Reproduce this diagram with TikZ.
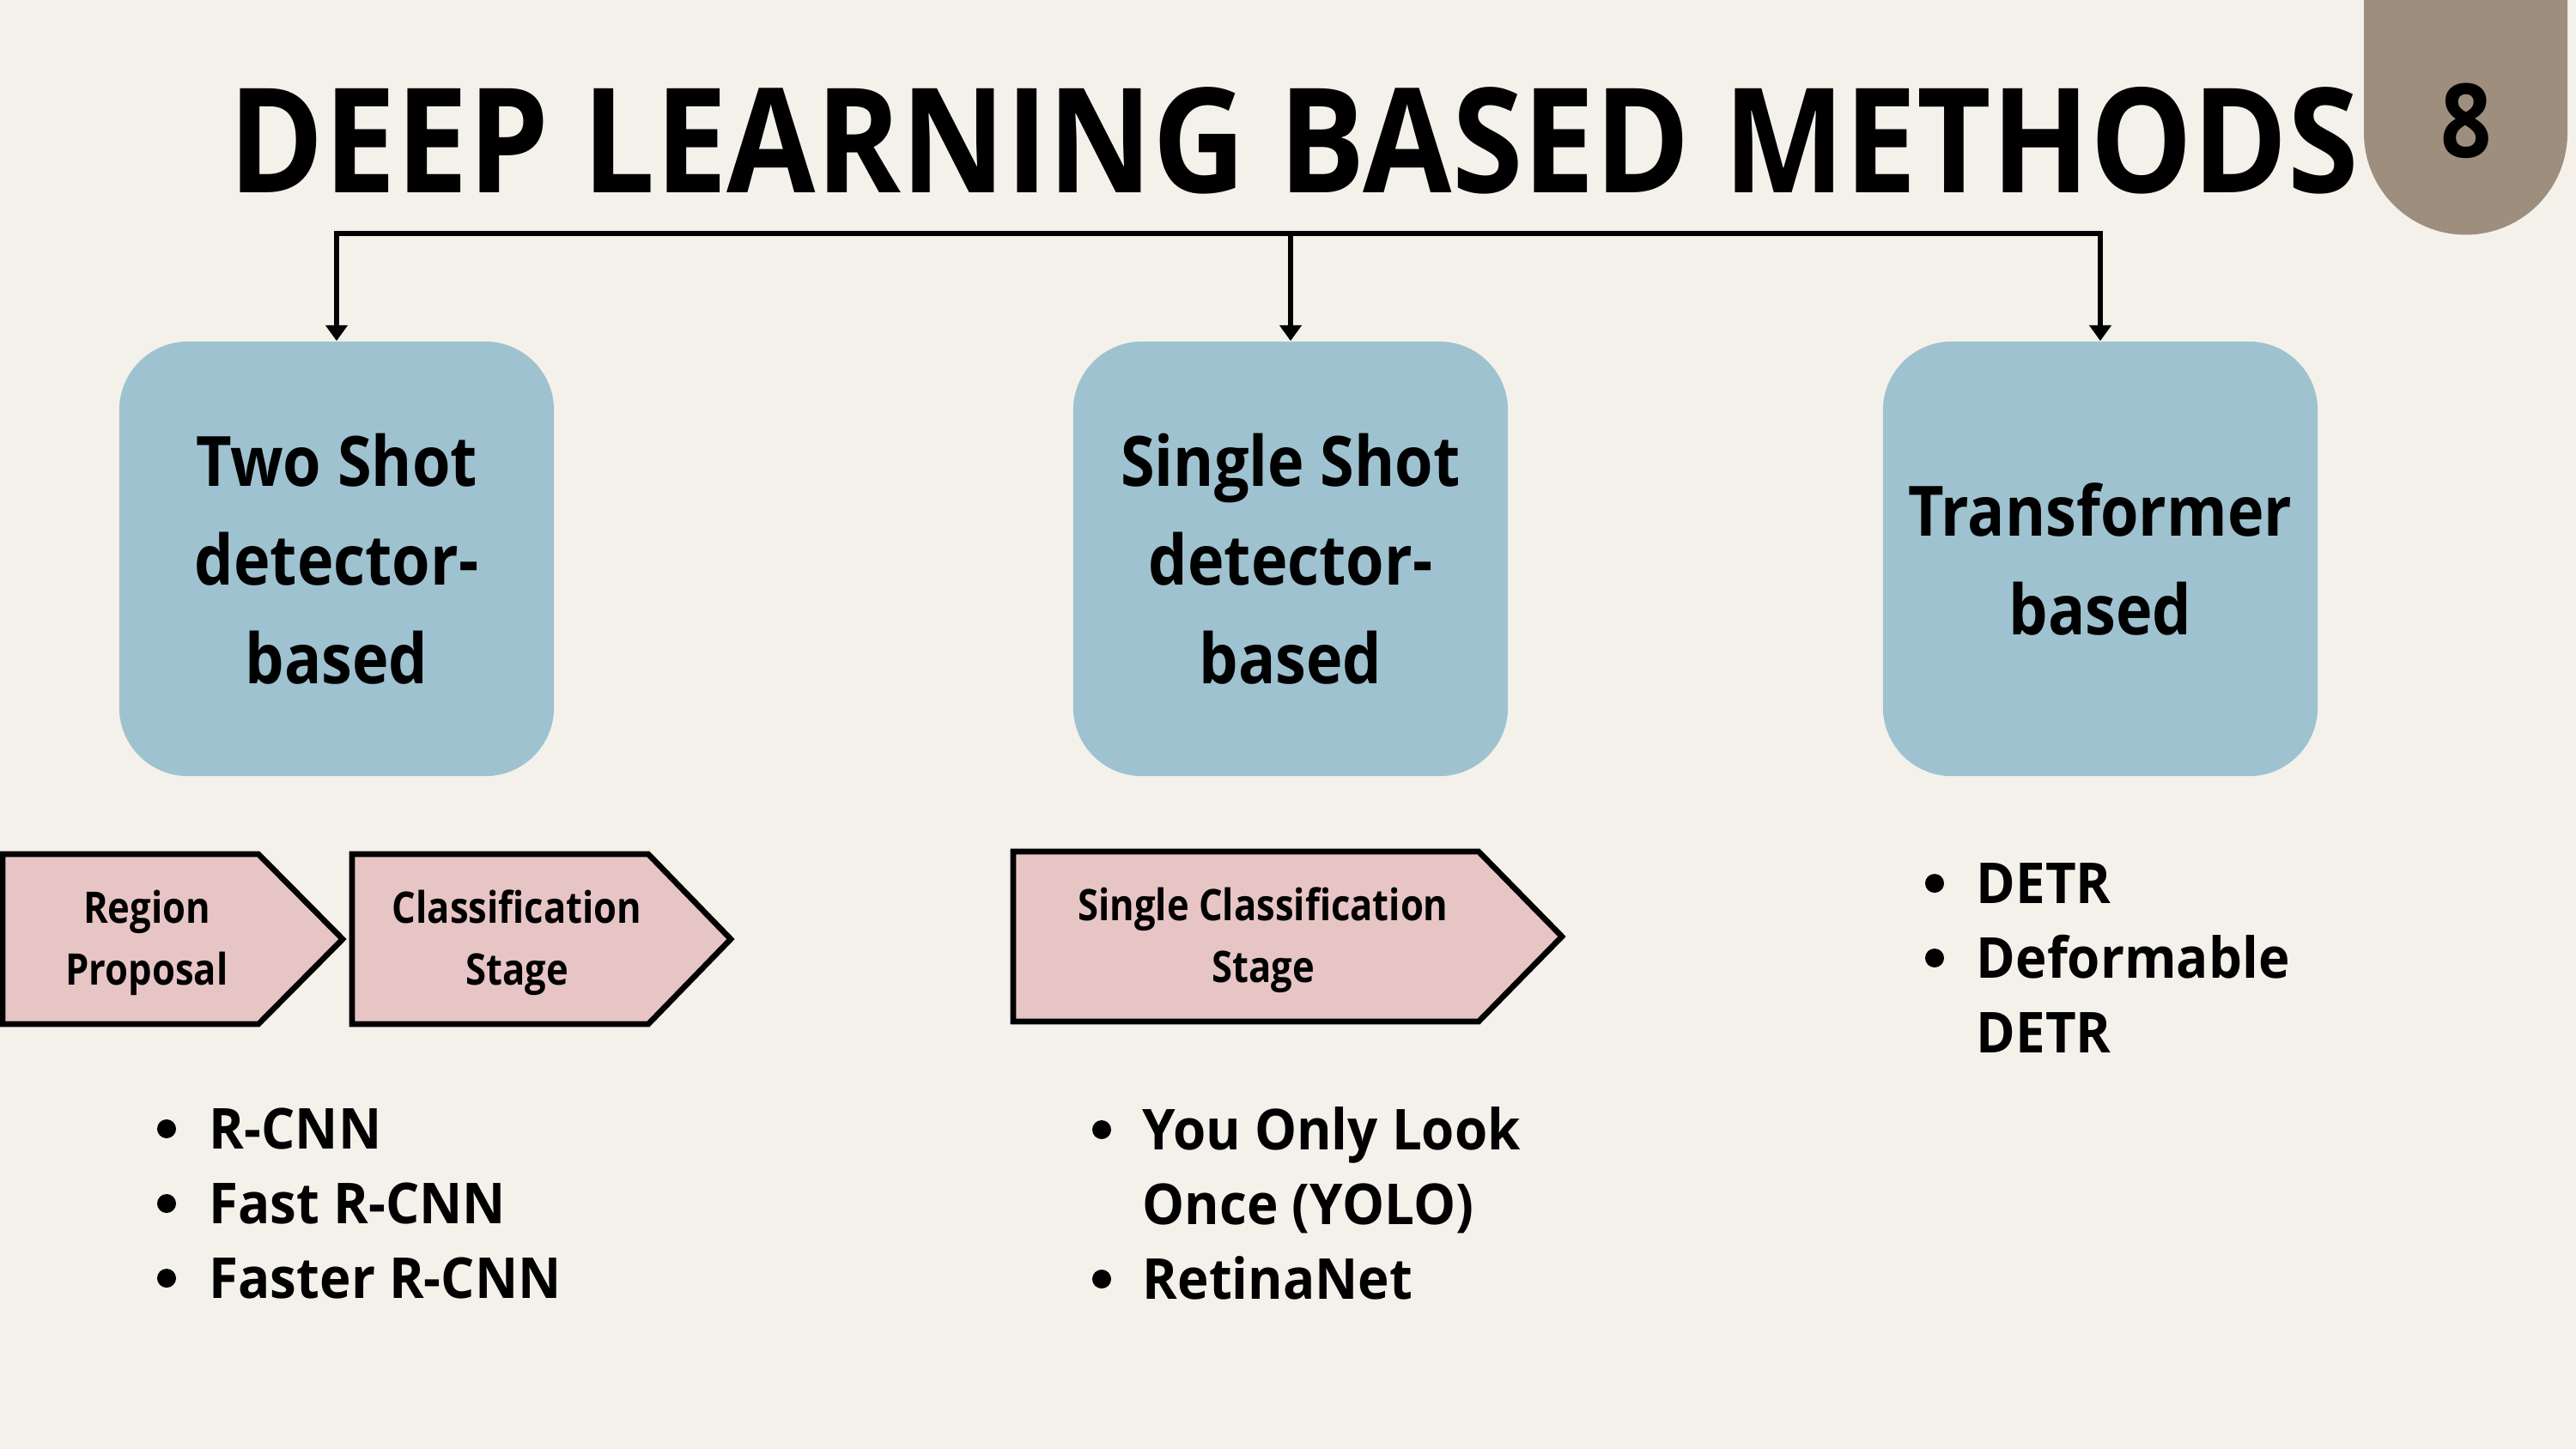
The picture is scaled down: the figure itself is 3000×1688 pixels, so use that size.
\documentclass[tikz,border=0pt]{standalone}
\usepackage{fontspec}
\setmainfont{Open Sans}
\newfontfamily\headfont[FakeStretch=0.87]{Open Sans}
\newfontfamily\boxfont[FakeStretch=0.89]{Open Sans}
\newfontfamily\stagefont[FakeStretch=0.86]{Open Sans}
\newfontfamily\listfont[FakeStretch=0.94]{Open Sans}
\usetikzlibrary{arrows.meta}
\definecolor{paper}{RGB}{244,241,235}
\definecolor{badge}{RGB}{158,142,126}
\definecolor{methodblue}{RGB}{159,194,208}
\definecolor{stagepink}{RGB}{232,197,197}
\begin{document}
\begin{tikzpicture}[x=0.01cm,y=-0.01cm,
  methodbox/.style={fill=methodblue, rounded corners=0.8cm, minimum width=5.06cm,
    minimum height=5.06cm, inner sep=0pt, align=center,
    font=\boxfont\bfseries\fontsize{23}{32.7}\selectfont},
  stagebox/.style={fill=stagepink, draw=black, line width=1.9pt, line join=miter},
  stagetext/.style={align=center, inner sep=0pt,
    font=\stagefont\bfseries\fontsize{14.4}{20.5}\selectfont},
  listitem/.style={anchor=base west, inner sep=0pt,
    font=\listfont\bfseries\fontsize{18.7}{24.7}\selectfont},
  bulletdot/.style={circle, fill=black, inner sep=0pt, minimum size=0.22cm},
  feed/.style={line width=1.9pt, -{Triangle[width=7.1pt,length=5.2pt]}}
]
% page
\fill[paper] (0,0) rectangle (3000,1688);
\useasboundingbox (0,0) rectangle (3000,1688);

% page-number tab
\fill[badge] (2753,0) -- (2753,155) arc[start angle=180, end angle=0, radius=118.5] -- (2990,0) -- cycle;
\node[font=\headfont\bfseries\fontsize{34}{34}\selectfont, inner sep=0pt] (pagenum) at (2872,141) {8};

% heading
\node[anchor=base west, inner sep=0pt] (title) at (266,225)
  {\resizebox{705pt}{35pt}{\headfont\bfseries DEEP LEARNING BASED METHODS}};

% method families
\node[methodbox] (two) at (392,651) {Two Shot\\detector-\\based};
\node[methodbox] (single) at (1503,651) {Single Shot\\detector-\\based};
\node[methodbox] (trans) at (2446,651) {Transformer\\based};

% distribution bar
\coordinate (bar) at (1503,272);
\draw[feed] (bar) -| (two.north);
\draw[feed] (bar) -- (single.north);
\draw[feed] (bar) -| (trans.north);

% pipeline stages
\draw[stagebox] (3,995) -- (301,995) -- (399,1094) -- (301,1193) -- (3,1193) -- cycle;
\draw[stagebox] (410,995) -- (755,995) -- (851,1094) -- (755,1193) -- (410,1193) -- cycle;
\draw[stagebox] (1180,992) -- (1722,992) -- (1819,1091) -- (1722,1190) -- (1180,1190) -- cycle;
\node[stagetext] (rp) at (171,1098) {Region\\Proposal};
\node[stagetext] (cs) at (602,1098) {Classification\\Stage};
\node[stagetext] (scs) at (1471,1095) {Single Classification\\Stage};

% two-shot examples
\node[bulletdot] (b11) at (194,1315) {};
\node[listitem] (rcnn) at (243,1338) {R-CNN};
\node[bulletdot] (b12) at (194,1402) {};
\node[listitem] (fast) at (243,1425) {Fast R-CNN};
\node[bulletdot] (b13) at (194,1489) {};
\node[listitem] (faster) at (243,1512) {Faster R-CNN};

% single-shot examples
\node[bulletdot] (b21) at (1283,1316) {};
\node[listitem] (yolo1) at (1330,1339) {You Only Look};
\node[listitem] (yolo2) at (1330,1426) {Once (YOLO)};
\node[bulletdot] (b22) at (1283,1490) {};
\node[listitem] (retina) at (1330,1513) {RetinaNet};

% transformer examples
\node[bulletdot] (b31) at (2253,1029) {};
\node[listitem] (detr) at (2301,1052) {DETR};
\node[bulletdot] (b32) at (2253,1116) {};
\node[listitem] (ddetr1) at (2301,1139) {Deformable};
\node[listitem] (ddetr2) at (2301,1226) {DETR};
\end{tikzpicture}
\end{document}
